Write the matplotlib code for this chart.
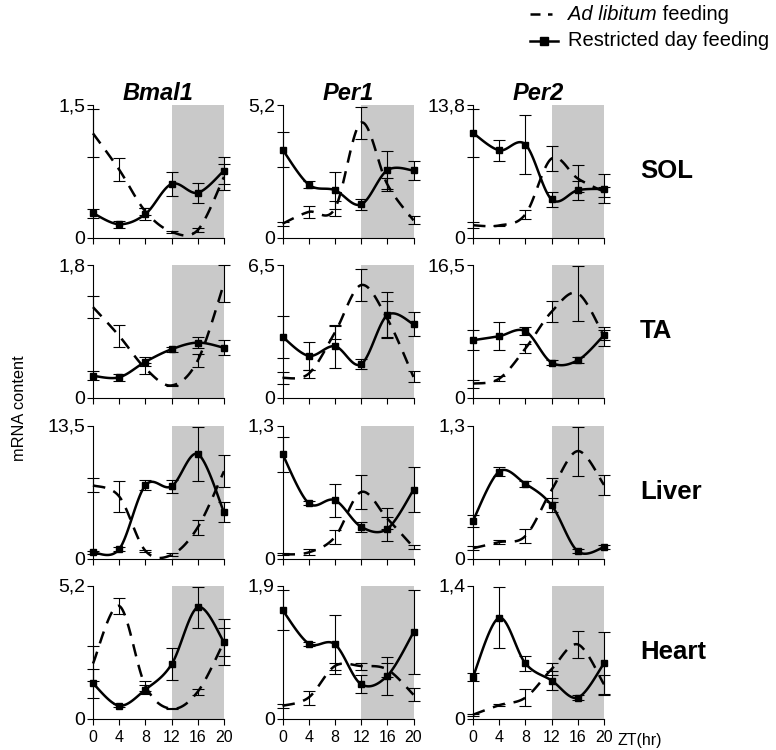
import numpy as np
import matplotlib.pyplot as plt
from matplotlib.lines import Line2D

plt.rcParams['font.family'] = ['Liberation Sans', 'DejaVu Sans']

zt = [0, 4, 8, 12, 16, 20]
genes = ['Bmal1', 'Per1', 'Per2']
tissues = ['SOL', 'TA', 'Liver', 'Heart']
y_max = [[1.5, 5.2, 13.8], [1.8, 6.5, 16.5], [13.5, 1.3, 1.3], [5.2, 1.9, 1.4]]
y_max_labels = [['1,5', '5,2', '13,8'], ['1,8', '6,5', '16,5'],
                ['13,5', '1,3', '1,3'], ['5,2', '1,9', '1,4']]

# ad libitum feeding (dashed), rows = Bmal1, Per1, Per2
sol_al = [[1.18, 0.77, 0.30, 0.07, 0.09, 0.69], [0.56, 1.02, 1.15, 4.51, 2.1, 0.69], [1.32, 1.3, 2.46, 8.25, 6.17, 4.8]]
sol_al_err = [[0.27, 0.13, 0.04, 0.01, 0.02, 0.15], [0.08, 0.25, 0.28, 0.62, 0.25, 0.16], [0.3, 0.1, 0.47, 1.3, 1.37, 0.5]]
ta_al = [[1.23, 0.84, 0.40, 0.17, 0.51, 1.55], [0.98, 1.19, 3.2, 5.52, 3.87, 1.03], [1.78, 2.4, 6.14, 10.7, 12.98, 7.67]]
ta_al_err = [[0.15, 0.15, 0.08, 0.01, 0.09, 0.25], [0.28, 0.2, 0.3, 0.77, 0.88, 0.27], [0.5, 0.3, 0.6, 1.3, 3.44, 1.2]]
liver_al = [[7.43, 6.3, 0.78, 0.37, 3.17, 8.86], [0.04, 0.06, 0.21, 0.65, 0.39, 0.11], [0.10, 0.16, 0.22, 0.67, 1.05, 0.72]]
liver_al_err = [[0.7, 1.6, 0.1, 0.15, 0.75, 1.65], [0.01, 0.03, 0.065, 0.17, 0.1, 0.02], [0.02, 0.02, 0.07, 0.12, 0.24, 0.1]]
heart_al = [[2.15, 4.4, 1.28, 0.38, 1.05, 3.0], [0.18, 0.30, 0.75, 0.75, 0.70, 0.34], [0.04, 0.14, 0.22, 0.52, 0.78, 0.36]]
heart_al_err = [[0.7, 0.3, 0.2, 0.02, 0.12, 0.55], [0.03, 0.1, 0.05, 0.05, 0.1, 0.09], [0.01, 0.01, 0.09, 0.06, 0.14, 0.1]]

# restricted day feeding (solid with squares)
sol_rf = [[0.28, 0.155, 0.27, 0.61, 0.51, 0.76], [3.46, 2.09, 1.87, 1.31, 2.65, 2.64], [10.9, 9.1, 9.7, 4.0, 4.96, 5.1]]
sol_rf_err = [[0.05, 0.04, 0.07, 0.14, 0.11, 0.15], [0.70, 0.13, 0.72, 0.2, 0.74, 0.38], [2.5, 1.07, 3.05, 0.8, 1.0, 1.5]]
ta_rf = [[0.30, 0.28, 0.49, 0.66, 0.75, 0.68], [2.99, 2.06, 2.53, 1.65, 4.05, 3.61], [7.17, 7.67, 8.29, 4.39, 4.68, 7.79]]
ta_rf_err = [[0.06, 0.05, 0.06, 0.035, 0.07, 0.1], [1.03, 0.70, 1.06, 0.25, 1.14, 0.57], [1.24, 1.76, 0.5, 0.3, 0.35, 0.6]]
liver_rf = [[0.61, 0.95, 7.43, 7.33, 10.6, 4.70], [1.02, 0.54, 0.57, 0.31, 0.29, 0.67], [0.37, 0.85, 0.73, 0.52, 0.07, 0.11]]
liver_rf_err = [[0.2, 0.2, 0.5, 0.68, 2.73, 1.04], [0.17, 0.02, 0.16, 0.05, 0.12, 0.22], [0.06, 0.04, 0.03, 0.07, 0.02, 0.02]]
heart_rf = [[1.37, 0.50, 1.13, 2.12, 4.35, 2.99], [1.55, 1.07, 1.06, 0.49, 0.61, 1.23], [0.44, 1.06, 0.58, 0.40, 0.22, 0.58]]
heart_rf_err = [[0.55, 0.05, 0.17, 0.63, 0.8, 0.9], [0.29, 0.03, 0.42, 0.13, 0.27, 0.6], [0.04, 0.32, 0.075, 0.1, 0.03, 0.33]]

al_rows = [sol_al, ta_al, liver_al, heart_al]
al_err_rows = [sol_al_err, ta_al_err, liver_al_err, heart_al_err]
rf_rows = [sol_rf, ta_rf, liver_rf, heart_rf]
rf_err_rows = [sol_rf_err, ta_rf_err, liver_rf_err, heart_rf_err]


def smooth(x, y, n=25):
    # Excel-like smoothed line (Catmull-Rom as cubic Bezier)
    x = np.asarray(x, float)
    y = np.asarray(y, float)
    px = np.concatenate([[x[0]], x, [x[-1]]])
    py = np.concatenate([[y[0]], y, [y[-1]]])
    t = np.linspace(0, 1, n)[:, None]
    out = []
    for i in range(len(x) - 1):
        p0 = np.array([px[i], py[i]])
        p1 = np.array([px[i + 1], py[i + 1]])
        p2 = np.array([px[i + 2], py[i + 2]])
        p3 = np.array([px[i + 3], py[i + 3]])
        c1 = p1 + (p2 - p0) / 6
        c2 = p2 - (p3 - p1) / 6
        seg = ((1 - t) ** 3 * p1 + 3 * (1 - t) ** 2 * t * c1
               + 3 * (1 - t) * t ** 2 * c2 + t ** 3 * p2)
        out.append(seg if i == 0 else seg[1:])
    pts = np.vstack(out)
    return pts[:, 0], pts[:, 1]


fig = plt.figure(figsize=(7.76, 7.5), dpi=100)

lefts = [93, 282.5, 473]
tops = [105, 265, 425.5, 585.5]
w_px, h_px = 131, 133

for r in range(4):
    for c in range(3):
        ax = fig.add_axes([lefts[c] / 776, 1 - (tops[r] + h_px) / 750, w_px / 776, h_px / 750])
        ym = y_max[r][c]
        ax.axvspan(12, 20, color='#c9c9c9', lw=0, zorder=0)

        al = al_rows[r][c]
        rf = rf_rows[r][c]
        sx, sy = smooth(zt, al)
        ax.plot(sx, sy, color='black', lw=1.8, dashes=(5, 3.5), clip_on=False, zorder=3)
        sx, sy = smooth(zt, rf)
        ax.plot(sx, sy, color='black', lw=1.8, clip_on=False, zorder=4)
        ax.plot(zt, rf, ls='none', marker='s', ms=4.2, color='black', clip_on=False, zorder=5)

        for vals, errs in [(al, al_err_rows[r][c]), (rf, rf_err_rows[r][c])]:
            eb = ax.errorbar(zt, vals, yerr=errs, fmt='none', ecolor='black',
                             elinewidth=0.8, capsize=4.5, capthick=0.8, zorder=2)
            for art in eb.get_children():
                art.set_clip_on(False)

        ax.set_xlim(0, 20)
        ax.set_ylim(0, ym)
        ax.set_xticks(zt)
        ax.set_yticks([0, ym])
        ax.set_yticklabels(['0', y_max_labels[r][c]], fontsize=14)
        if r == 3:
            ax.set_xticklabels([str(v) for v in zt], fontsize=11.5)
        else:
            ax.set_xticklabels([])
        ax.tick_params(direction='out', length=4, width=0.8, pad=4)
        ax.tick_params(axis='y', pad=1.5)
        for s in ['top', 'right']:
            ax.spines[s].set_visible(False)
        for s in ['left', 'bottom']:
            ax.spines[s].set_linewidth(0.8)
        ax.patch.set_alpha(0)

        if r == 0:
            ax.set_title(genes[c], fontsize=17, fontweight='bold', style='italic', pad=3)
    fig.text(640 / 776, 1 - (tops[r] + h_px / 2) / 750, tissues[r],
             fontsize=18.5, fontweight='bold', ha='left', va='center')

fig.text(618 / 776, 1 - 740 / 750, 'ZT(hr)', fontsize=11.5, ha='left', va='center')
fig.text(20 / 776, 1 - 408 / 750, 'mRNA content', fontsize=11.8, rotation=90,
         ha='center', va='center')

# legend, drawn by hand
fig.add_artist(Line2D([530 / 776, 552 / 776], [1 - 14 / 750] * 2, color='black',
                      lw=1.8, dashes=(4, 3)))
t1 = fig.text(568 / 776, 1 - 14 / 750, 'Ad libitum', fontsize=14.5, style='italic', va='center')
fig.add_artist(plt.Annotation(' feeding', xy=(1, 0.5), xycoords=t1, va='center',
                              ha='left', fontsize=14.5))
fig.add_artist(Line2D([530 / 776, 558 / 776], [1 - 41 / 750] * 2, color='black', lw=1.8))
fig.add_artist(Line2D([544 / 776], [1 - 41 / 750], color='black', marker='s', ms=6))
fig.text(568 / 776, 1 - 41 / 750, 'Restricted day feeding', fontsize=14.5, va='center')

fig.savefig('out.png', dpi=100)
